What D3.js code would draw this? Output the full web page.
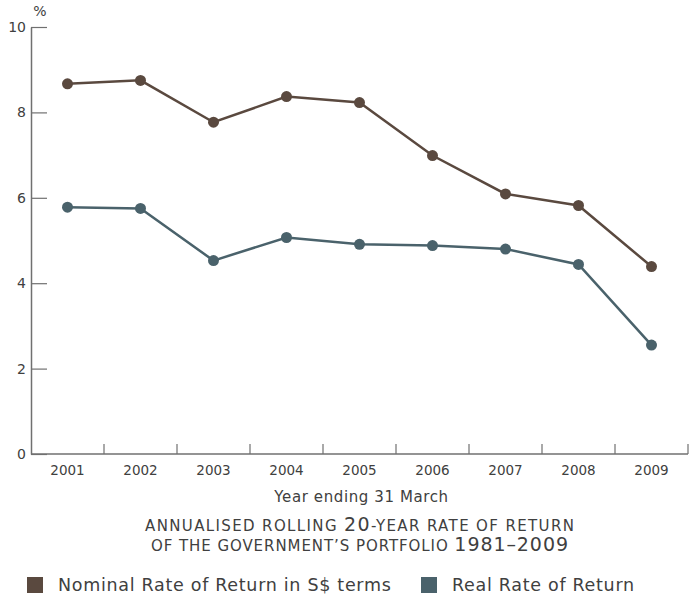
<!DOCTYPE html>
<html>
<head>
<meta charset="utf-8">
<script src="https://cdn.jsdelivr.net/npm/d3@7"></script>
<style>
  body { margin: 0; background: #fff; }
  svg { font-family: "DejaVu Sans", "Noto Sans", sans-serif; }
</style>
</head>
<body>
<div id="chart"></div>
<script>
// data
const years = ["2001", "2002", "2003", "2004", "2005", "2006", "2007", "2008", "2009"];
const nominal = [8.67, 8.75, 7.77, 8.37, 8.23, 6.99, 6.09, 5.82, 4.39];
const real = [5.78, 5.75, 4.53, 5.07, 4.91, 4.88, 4.80, 4.44, 2.55];
const yTicks = [0, 2, 4, 6, 8, 10];
const seriesNames = ["Nominal Rate of Return in S$ terms", "Real Rate of Return"];
const titleLines = ["Annualised rolling 20-year rate of return", "of the Government\u2019s portfolio 1981\u20132009"];

const svgWidth = 694, svgHeight = 595;
const marginLeft = 31, marginRight = 6, marginTop = 27, marginBottom = 141;
const width = svgWidth - marginLeft - marginRight;
const height = svgHeight - marginTop - marginBottom;

const colors = ["#5a493f", "#4a626b"];
const axisColor = "#707070";
const textColor = "#404040";

const svg = d3.select("#chart").append("svg")
  .attr("width", svgWidth)
  .attr("height", svgHeight);

const xScale = d3.scaleBand().domain(years).range([0, width]).padding(0);
const yScale = d3.scaleLinear().domain([0, 10]).range([height, 0]);

const chart = svg.append("g")
  .attr("transform", `translate(${marginLeft},${marginTop})`);

// y axis: ticks point inwards
const yAxis = chart.append("g")
  .call(d3.axisRight(yScale).tickValues(yTicks).tickSize(16).tickSizeOuter(0).tickFormat(""));
yAxis.select(".domain").attr("stroke", axisColor).attr("stroke-width", 1.5);
yAxis.selectAll(".tick line").attr("stroke", axisColor).attr("stroke-width", 1.2);

chart.append("g")
  .selectAll("text")
  .data(yTicks)
  .join("text")
  .attr("x", -5)
  .attr("y", (d) => yScale(d))
  .attr("dy", "0.35em")
  .attr("text-anchor", "end")
  .attr("fill", textColor)
  .style("font-size", "14px")
  .text((d) => d);

chart.append("text")
  .attr("x", 9)
  .attr("y", -11)
  .attr("text-anchor", "middle")
  .attr("fill", textColor)
  .style("font-size", "14px")
  .text("%");

// x axis: ticks at band boundaries, pointing up
const boundaries = years.map((y) => xScale(y)).concat([width]).slice(1);
const xAxis = chart.append("g").attr("transform", `translate(0,${height})`);
xAxis.append("line")
  .attr("x1", 0).attr("x2", width)
  .attr("stroke", axisColor).attr("stroke-width", 1.5);
xAxis.selectAll(".bt")
  .data(boundaries)
  .join("line")
  .attr("class", "bt")
  .attr("x1", (d) => d).attr("x2", (d) => d)
  .attr("y1", 0).attr("y2", -10)
  .attr("stroke", axisColor).attr("stroke-width", 1.2);
xAxis.selectAll("text")
  .data(years)
  .join("text")
  .attr("x", (d) => xScale(d) + xScale.bandwidth() / 2)
  .attr("y", 21)
  .attr("text-anchor", "middle")
  .attr("fill", textColor)
  .style("font-size", "13.5px")
  .text((d) => d);

chart.append("text")
  .attr("x", width / 2 + 2)
  .attr("y", height + 48)
  .attr("text-anchor", "middle")
  .attr("fill", textColor)
  .style("font-size", "15px")
  .style("letter-spacing", "0.6px")
  .text("Year ending 31 March");

// lines
const series = [nominal, real];
const line = d3.line()
  .x((d, i) => xScale(years[i]) + xScale.bandwidth() / 2)
  .y((d) => yScale(d));

series.forEach((vals, k) => {
  chart.append("path")
    .datum(vals)
    .attr("fill", "none")
    .attr("stroke", colors[k])
    .attr("stroke-width", 2.5)
    .attr("d", line);
  chart.append("g")
    .selectAll("circle")
    .data(vals)
    .join("circle")
    .attr("cx", (d, i) => xScale(years[i]) + xScale.bandwidth() / 2)
    .attr("cy", (d) => yScale(d))
    .attr("r", 5.5)
    .attr("fill", colors[k]);
});

// title, drawn as small caps: letters small, digits full size
const titleWidths = [429, 417];
const title = svg.append("g")
  .selectAll("text")
  .data(titleLines)
  .join("text")
  .attr("x", marginLeft + width / 2)
  .attr("y", (d, i) => 531 + i * 20)
  .attr("text-anchor", "middle")
  .attr("fill", textColor)
  .attr("textLength", (d, i) => titleWidths[i])
  .attr("lengthAdjust", "spacing");
title.selectAll("tspan")
  .data((d) => d.match(/[0-9\u2013]+|[^0-9\u2013]+/g))
  .join("tspan")
  .style("font-size", (d) => (/[0-9]/.test(d) ? "19px" : "15px"))
  .text((d) => d.toUpperCase());

// legend
const legendX = [27, 421];
const legend = svg.append("g")
  .selectAll("g")
  .data(seriesNames)
  .join("g")
  .attr("transform", (d, i) => `translate(${legendX[i]},577)`);
legend.append("rect")
  .attr("width", 16).attr("height", 16)
  .attr("fill", (d, i) => colors[i]);
legend.append("text")
  .attr("x", 31)
  .attr("y", 8)
  .attr("dy", "0.35em")
  .attr("fill", textColor)
  .style("font-size", "17.5px")
  .style("letter-spacing", "0.7px")
  .text((d) => d);
</script>
</body>
</html>
